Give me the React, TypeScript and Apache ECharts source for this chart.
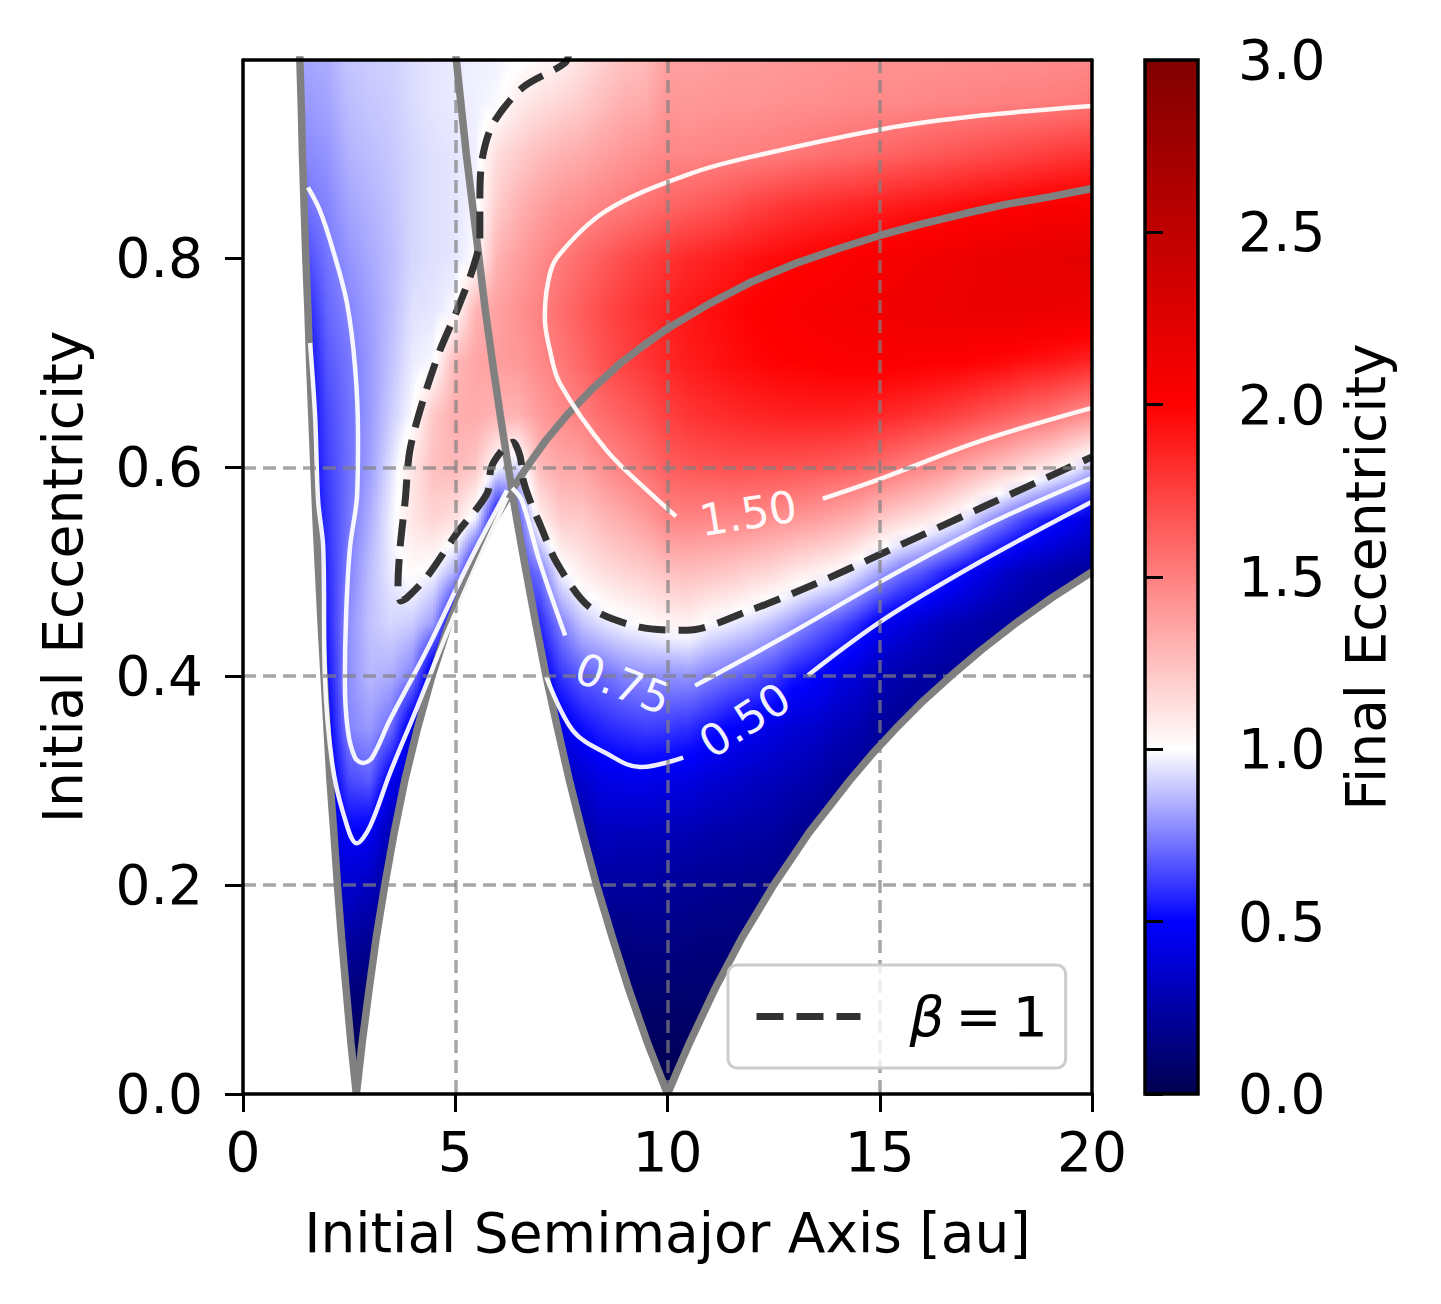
import React, { useEffect, useRef } from "react";
import * as echarts from "echarts";

const _ = null;
const FONT = "DejaVu Sans";

// grid nodes of the colour field (semimajor axis columns, eccentricity rows)
const A_NODES = [1.5, 2, 2.5, 3, 3.5, 4, 4.5, 5, 5.5, 6, 6.5, 7, 7.5, 8, 8.5, 9, 9.5, 10, 10.5, 11, 11.5, 12, 12.5, 13, 13.5, 14, 14.5, 15, 15.5, 16, 16.5, 17, 17.5, 18, 18.5, 19, 19.5, 20];
const E_NODES = [0, 0.05, 0.1, 0.15, 0.2, 0.25, 0.3, 0.35, 0.4, 0.45, 0.5, 0.55, 0.6, 0.65, 0.7, 0.75, 0.8, 0.85, 0.9, 0.95, 1.0];

// final eccentricity, one column per A_NODES entry (rows = E_NODES)
const FIELD_BY_COLUMN: (number | null)[][] = [
  [_, _, _, _, _, _, _, _, _, _, 0.45, 0.46, 0.47, 0.48, 0.5, 0.56, 0.64, 0.72, 0.77, 0.8, 0.83],
  [_, _, _, _, 0.3, 0.38, 0.43, 0.47, 0.53, 0.56, 0.58, 0.6, 0.62, 0.64, 0.67, 0.7, 0.73, 0.76, 0.79, 0.82, 0.84],
  [0, 0.06, 0.14, 0.25, 0.37, 0.49, 0.64, 0.76, 0.78, 0.78, 0.75, 0.73, 0.72, 0.72, 0.73, 0.76, 0.79, 0.82, 0.85, 0.87, 0.89],
  [0, 0.05, 0.12, 0.2, 0.32, 0.47, 0.68, 0.8, 0.86, 0.88, 0.87, 0.84, 0.81, 0.8, 0.8, 0.81, 0.83, 0.85, 0.87, 0.89, 0.9],
  [_, _, _, _, 0.2, 0.28, 0.46, 0.71, 0.84, 0.92, 0.96, 0.97, 0.94, 0.9, 0.88, 0.87, 0.87, 0.88, 0.89, 0.9, 0.91],
  [_, _, _, _, _, 0.25, 0.3, 0.42, 0.75, 0.9, 1.02, 1.1, 1.1, 0.99, 0.96, 0.94, 0.92, 0.92, 0.92, 0.93, 0.93],
  [_, _, _, _, _, _, 0.28, 0.32, 0.38, 0.8, 0.98, 1.17, 1.25, 1.22, 0.99, 0.95, 0.94, 0.94, 0.94, 0.95, 0.95],
  [_, _, _, _, _, _, _, 0.33, 0.36, 0.42, 0.85, 1.12, 1.28, 1.32, 1.28, 0.99, 0.95, 0.95, 0.95, 0.96, 0.96],
  [_, _, _, _, _, _, _, _, 0.4, 0.42, 0.45, 0.96, 1.22, 1.33, 1.35, 1.3, 1.0, 0.98, 0.97, 0.97, 0.97],
  [_, _, _, _, _, _, _, _, _, _, 0.45, 0.45, 0.98, 1.29, 1.38, 1.37, 1.3, 1.2, 1.13, 0.99, 0.97],
  [_, _, _, _, _, _, _, _, _, _, 0.62, 0.68, 0.92, 1.3, 1.4, 1.43, 1.38, 1.3, 1.2, 1.07, 0.98],
  [_, _, _, _, _, _, _, 0.4, 0.45, 0.57, 0.72, 1.05, 1.27, 1.39, 1.46, 1.49, 1.45, 1.37, 1.26, 1.12, 1.0],
  [_, _, _, _, _, _, 0.3, 0.44, 0.6, 0.75, 0.98, 1.2, 1.34, 1.45, 1.53, 1.57, 1.52, 1.42, 1.3, 1.16, 1.03],
  [_, _, _, _, 0.2, 0.24, 0.36, 0.52, 0.68, 0.88, 1.07, 1.21, 1.36, 1.5, 1.6, 1.64, 1.58, 1.45, 1.33, 1.2, 1.1],
  [_, _, _, 0.15, 0.24, 0.32, 0.43, 0.57, 0.71, 0.94, 1.13, 1.28, 1.44, 1.58, 1.68, 1.71, 1.64, 1.49, 1.37, 1.26, 1.17],
  [_, 0.05, 0.1, 0.15, 0.23, 0.31, 0.44, 0.6, 0.76, 0.98, 1.17, 1.33, 1.5, 1.63, 1.74, 1.77, 1.7, 1.52, 1.41, 1.31, 1.23],
  [0, 0.05, 0.1, 0.16, 0.23, 0.31, 0.44, 0.62, 0.78, 1.01, 1.2, 1.39, 1.56, 1.68, 1.79, 1.82, 1.75, 1.56, 1.44, 1.33, 1.26],
  [0, 0.05, 0.1, 0.16, 0.22, 0.3, 0.43, 0.61, 0.78, 1.04, 1.25, 1.47, 1.63, 1.75, 1.85, 1.87, 1.8, 1.6, 1.47, 1.41, 1.37],
  [0.02, 0.06, 0.1, 0.15, 0.21, 0.29, 0.42, 0.59, 0.79, 1.05, 1.26, 1.48, 1.66, 1.79, 1.89, 1.91, 1.84, 1.63, 1.47, 1.4, 1.36],
  [_, 0.06, 0.1, 0.14, 0.2, 0.27, 0.38, 0.54, 0.75, 0.99, 1.24, 1.47, 1.67, 1.82, 1.92, 1.94, 1.87, 1.66, 1.48, 1.41, 1.37],
  [_, _, 0.1, 0.14, 0.19, 0.26, 0.36, 0.49, 0.71, 0.96, 1.22, 1.47, 1.68, 1.84, 1.95, 1.97, 1.9, 1.69, 1.49, 1.42, 1.38],
  [_, _, _, 0.13, 0.18, 0.25, 0.33, 0.46, 0.67, 0.92, 1.18, 1.46, 1.68, 1.86, 1.97, 2.0, 1.93, 1.74, 1.5, 1.42, 1.38],
  [_, _, _, 0.13, 0.17, 0.24, 0.31, 0.42, 0.62, 0.87, 1.15, 1.43, 1.68, 1.87, 1.99, 2.02, 1.96, 1.77, 1.51, 1.43, 1.39],
  [_, _, _, _, 0.16, 0.2, 0.29, 0.38, 0.54, 0.8, 1.1, 1.41, 1.67, 1.88, 2.0, 2.04, 1.98, 1.8, 1.53, 1.44, 1.4],
  [_, _, _, _, 0.16, 0.18, 0.26, 0.36, 0.5, 0.72, 1.06, 1.38, 1.66, 1.88, 2.01, 2.06, 2.0, 1.82, 1.55, 1.44, 1.41],
  [_, _, _, _, _, 0.17, 0.22, 0.31, 0.43, 0.66, 1.02, 1.34, 1.64, 1.88, 2.02, 2.08, 2.02, 1.84, 1.57, 1.45, 1.42],
  [_, _, _, _, _, 0.17, 0.2, 0.28, 0.38, 0.58, 0.93, 1.3, 1.62, 1.87, 2.03, 2.1, 2.04, 1.86, 1.58, 1.46, 1.42],
  [_, _, _, _, _, _, 0.19, 0.22, 0.3, 0.47, 0.83, 1.22, 1.57, 1.85, 2.03, 2.11, 2.06, 1.88, 1.6, 1.46, 1.42],
  [_, _, _, _, _, _, 0.19, 0.2, 0.26, 0.42, 0.73, 1.16, 1.52, 1.83, 2.03, 2.12, 2.08, 1.9, 1.62, 1.46, 1.42],
  [_, _, _, _, _, _, _, 0.2, 0.24, 0.36, 0.67, 1.11, 1.47, 1.8, 2.02, 2.13, 2.1, 1.92, 1.64, 1.47, 1.42],
  [_, _, _, _, _, _, _, 0.2, 0.22, 0.31, 0.58, 1.04, 1.42, 1.77, 2.01, 2.14, 2.12, 1.94, 1.66, 1.48, 1.42],
  [_, _, _, _, _, _, _, _, 0.2, 0.28, 0.5, 0.95, 1.35, 1.73, 2.0, 2.15, 2.14, 1.96, 1.68, 1.48, 1.43],
  [_, _, _, _, _, _, _, _, 0.2, 0.25, 0.42, 0.82, 1.29, 1.68, 1.98, 2.16, 2.16, 1.98, 1.7, 1.49, 1.43],
  [_, _, _, _, _, _, _, _, 0.2, 0.23, 0.35, 0.72, 1.22, 1.64, 1.96, 2.16, 2.17, 2.0, 1.72, 1.5, 1.43],
  [_, _, _, _, _, _, _, _, _, 0.2, 0.3, 0.62, 1.15, 1.58, 1.93, 2.15, 2.18, 2.02, 1.74, 1.5, 1.43],
  [_, _, _, _, _, _, _, _, _, 0.2, 0.27, 0.54, 1.08, 1.55, 1.91, 2.15, 2.19, 2.04, 1.76, 1.51, 1.44],
  [_, _, _, _, _, _, _, _, _, 0.2, 0.24, 0.47, 1.0, 1.48, 1.88, 2.14, 2.2, 2.05, 1.78, 1.52, 1.44],
  [_, _, _, _, _, _, _, _, _, 0.2, 0.22, 0.4, 0.89, 1.43, 1.85, 2.13, 2.21, 2.06, 1.8, 1.53, 1.45],
];

// grey boundary curves (semimajor axis, eccentricity)
const BOUNDARY_L1 = [[2.67, 0], [2.54, 0.05], [2.43, 0.1], [2.32, 0.15], [2.225, 0.2], [2.14, 0.25], [2.05, 0.3], [1.98, 0.35], [1.91, 0.4], [1.84, 0.45], [1.78, 0.5], [1.72, 0.55], [1.67, 0.6], [1.62, 0.65], [1.57, 0.7], [1.53, 0.75], [1.48, 0.8], [1.44, 0.85], [1.4, 0.9], [1.37, 0.95], [1.34, 0.99], [1.32, 1.02]];
const BOUNDARY_L2U = [[2.67, 0], [2.81, 0.05], [2.97, 0.1], [3.14, 0.15], [3.34, 0.2], [3.56, 0.25], [3.81, 0.3], [4.11, 0.35], [4.45, 0.4], [4.85, 0.45], [5.34, 0.5], [5.93, 0.55], [6.335, 0.578], [6.68, 0.6], [7.12, 0.625], [7.63, 0.65], [8.2, 0.674], [8.9, 0.7], [9.45, 0.717], [10, 0.733], [11, 0.757], [12, 0.778], [13, 0.795], [14, 0.809], [15, 0.822], [16, 0.833], [17, 0.843], [18, 0.852], [19, 0.859], [20, 0.867]];
const CUSP_INDEX_L2U = 12;
const BOUNDARY_R1 = [[4.9, 1.04], [5.0, 1.0], [5.13, 0.95], [5.26, 0.9], [5.41, 0.85], [5.56, 0.8], [5.71, 0.75], [5.88, 0.7], [6.06, 0.65], [6.25, 0.6], [6.335, 0.578], [6.45, 0.55], [6.67, 0.5], [6.9, 0.45], [7.14, 0.4], [7.41, 0.35], [7.69, 0.3], [8.0, 0.25], [8.33, 0.2], [8.7, 0.15], [9.09, 0.1], [9.52, 0.05], [10, 0]];
const CUSP_INDEX_R1 = 10;
const BOUNDARY_R2 = [[10, 0], [10.25, 0.024], [10.53, 0.05], [11.11, 0.1], [11.76, 0.15], [12.5, 0.2], [13.33, 0.25], [14.29, 0.3], [14.81, 0.325], [15.38, 0.35], [15.99, 0.375], [16.67, 0.4], [17.39, 0.425], [18.18, 0.45], [19.05, 0.475], [20, 0.5]];

// white contour lines
const C050_LEFT = [[1.58, 0.719], [1.7, 0.648], [1.77, 0.568], [1.89, 0.523], [1.93, 0.399], [2.1, 0.317], [2.36, 0.269], [2.68, 0.24], [2.99, 0.256], [3.46, 0.307], [4.1, 0.37], [4.8, 0.441], [5.58, 0.514], [6.22, 0.571]];
const C075_LEFT = [[1.53, 0.868], [1.81, 0.846], [2.12, 0.808], [2.45, 0.757], [2.64, 0.696], [2.71, 0.63], [2.69, 0.575], [2.52, 0.523], [2.43, 0.46], [2.4, 0.396], [2.47, 0.348], [2.64, 0.322], [2.83, 0.317], [3.04, 0.322], [3.46, 0.358], [4.33, 0.425], [5.35, 0.511], [6.22, 0.578]];
const C075_RIGHT_A = [[6.34, 0.58], [6.57, 0.568], [7.0, 0.508], [7.59, 0.439]];
const C075_RIGHT_B = [[10.65, 0.391], [12.72, 0.437], [15.08, 0.492], [17.43, 0.543], [20, 0.59]];
const C050_RIGHT_A = [[7.14, 0.4], [7.77, 0.348], [8.57, 0.326], [9.35, 0.313], [10.37, 0.322]];
const C050_RIGHT_B = [[13.31, 0.401], [15.08, 0.454], [17.43, 0.511], [20, 0.567]];
const C150_A = [[20, 0.946], [17.43, 0.937], [15.08, 0.924], [11.94, 0.897], [10.53, 0.881], [8.57, 0.846], [7.4, 0.801], [7.18, 0.776], [7.11, 0.743], [7.23, 0.712], [7.47, 0.68], [8.57, 0.616], [9.6, 0.575], [10.2, 0.553]];
const C150_B = [[13.66, 0.57], [15.08, 0.59], [17.43, 0.626], [20, 0.657]];
// beta = 1 contour (dashed)
const BETA1 = [[7.7, 1.0], [7.58, 0.987], [6.6, 0.964], [5.89, 0.929], [5.63, 0.894], [5.58, 0.855], [5.58, 0.82], [5.42, 0.791], [5.04, 0.75], [4.64, 0.712], [4.24, 0.664], [3.93, 0.616], [3.82, 0.568], [3.7, 0.523], [3.65, 0.485], [3.72, 0.472], [3.86, 0.475], [4.33, 0.495], [5.04, 0.537], [5.75, 0.575], [5.85, 0.6], [6.12, 0.617], [6.36, 0.624], [6.53, 0.61], [6.6, 0.588], [6.76, 0.568], [7.0, 0.545], [7.4, 0.508], [8.17, 0.466], [9.35, 0.447], [10.46, 0.444], [11.94, 0.463], [13.52, 0.489], [15.08, 0.518], [17.43, 0.562], [20, 0.61]];
const BETA1_NAME = "β = 1";

const LABEL_TEXT = ["1.50", "0.75", "0.50"];
const LABEL_POS = [[11.9, 0.556], [8.95, 0.393], [11.82, 0.358]];
const LABEL_ROT = [9, -21, 33];

const X_TICKS = [0, 5, 10, 15, 20];
const Y_TICKS = [0, 0.2, 0.4, 0.6, 0.8];
const CBAR_TICKS = [0, 0.5, 1, 1.5, 2, 2.5, 3];

function cmap(v: number): string {
  const t = v <= 1 ? Math.max(0, v) / 2 : Math.min(1, 0.5 + (v - 1) / 4);
  let r: number, g: number, b: number;
  if (t < 0.25) { const s = t / 0.25; r = 0; g = 0; b = 0.3 + 0.7 * s; }
  else if (t < 0.5) { const s = (t - 0.25) / 0.25; r = s; g = s; b = 1; }
  else if (t < 0.75) { const s = (t - 0.5) / 0.25; r = 1; g = 1 - s; b = 1 - s; }
  else { const s = (t - 0.75) / 0.25; r = 1 - 0.5 * s; g = 0; b = 0; }
  return `rgb(${Math.round(r * 255)},${Math.round(g * 255)},${Math.round(b * 255)})`;
}

function buildOption() {
  // nodes outside the coloured domain take the nearest value of their column (they are hidden by the masks)
  const filled = FIELD_BY_COLUMN.map((col) =>
    col.map((v, j) => {
      if (v != null) return v;
      for (let d = 1; d < col.length; d++) {
        const up = col[j + d];
        const dn = col[j - d];
        if (up != null) return up;
        if (dn != null) return dn;
      }
      return 0;
    })
  );
  const SUB = 8;
  const strips: number[][] = [];
  const step = A_NODES[1] - A_NODES[0];
  strips.push([A_NODES[0] - step / 2, A_NODES[0], 0, 0]);
  for (let i = 0; i < A_NODES.length - 1; i++) {
    const w = (A_NODES[i + 1] - A_NODES[i]) / SUB;
    for (let s = 0; s < SUB; s++) {
      strips.push([A_NODES[i] + s * w, A_NODES[i] + (s + 1) * w, i, (s + 0.5) / SUB]);
    }
  }
  const eTop = E_NODES[E_NODES.length - 1];
  const eBot = E_NODES[0];

  const masks = [
    [[-1, -0.1], [2.67, -0.1], ...BOUNDARY_L1, [1.28, 1.1], [-1, 1.1]],
    [...BOUNDARY_L2U.slice(0, CUSP_INDEX_L2U + 1), ...BOUNDARY_R1.slice(CUSP_INDEX_R1 + 1), [10, -0.1], [2.67, -0.1]],
    [...BOUNDARY_R2, [21, 0.5], [21, -0.1], [10, -0.1]],
  ];

  const lineSeries = (data: number[][], color: string, width: number, z: number, smooth: number | boolean, dash?: number[], name?: string) => ({
    type: "line",
    name,
    data,
    xAxisIndex: 0,
    yAxisIndex: 0,
    symbol: "none",
    showSymbol: false,
    smooth,
    silent: true,
    z,
    color,
    itemStyle: { color },
    lineStyle: { color, width, type: dash ? dash : "solid", cap: "butt" },
  });

  const axisFont = { fontFamily: FONT, fontSize: 55, color: "#000" };
  const gridLine = { show: true, showMinLine: false, showMaxLine: false, lineStyle: { color: "rgba(128,128,128,0.7)", width: 3.5, type: [13, 7] } };
  const white = "rgba(255,255,255,0.93)";

  const series: any[] = [
    {
      type: "custom",
      xAxisIndex: 0,
      yAxisIndex: 0,
      clip: true,
      silent: true,
      z: 1,
      data: strips,
      renderItem: (params: any, api: any) => {
        const x0 = api.value(0), x1 = api.value(1), i = api.value(2), t = api.value(3);
        const colA = filled[i];
        const colB = filled[Math.min(i + 1, filled.length - 1)];
        const val = (j: number) => (1 - t) * colA[j] + t * colB[j];
        const stops: any[] = [];
        for (let j = E_NODES.length - 1; j >= 0; j--) {
          const vj = val(j);
          stops.push({ offset: (eTop - E_NODES[j]) / (eTop - eBot), color: cmap(vj) });
          if (j > 0) {
            for (const f of [0.25, 0.5, 0.75]) {
              const e = E_NODES[j] - f * (E_NODES[j] - E_NODES[j - 1]);
              const v = (1 - f) * vj + f * val(j - 1);
              stops.push({ offset: (eTop - e) / (eTop - eBot), color: cmap(v) });
            }
          }
        }
        const p0 = api.coord([x0, eTop]);
        const p1 = api.coord([x1, eBot]);
        return {
          type: "rect",
          shape: { x: p0[0] - 0.5, y: p0[1], width: p1[0] - p0[0] + 1, height: p1[1] - p0[1] },
          style: { fill: { type: "linear", x: 0, y: 0, x2: 0, y2: 1, colorStops: stops } },
        };
      },
    },
    {
      type: "custom",
      xAxisIndex: 0,
      yAxisIndex: 0,
      clip: true,
      silent: true,
      z: 2,
      data: masks.map((_m, i) => [i]),
      renderItem: (params: any, api: any) => {
        const pts = masks[params.dataIndex].map((p) => api.coord(p));
        return { type: "polygon", shape: { points: pts }, style: { fill: "#ffffff" } };
      },
    },
    lineSeries(BOUNDARY_L1, "#808080", 7.5, 3, false),
    lineSeries(BOUNDARY_L2U, "#808080", 7.5, 3, false),
    lineSeries(BOUNDARY_R1, "#808080", 7.5, 3, false),
    lineSeries(BOUNDARY_R2, "#808080", 7.5, 3, false),
    lineSeries(C050_LEFT, white, 4.5, 4, 0.35),
    lineSeries(C075_LEFT, white, 4.5, 4, 0.35),
    lineSeries(C075_RIGHT_A, white, 4.5, 4, 0.35),
    lineSeries(C075_RIGHT_B, white, 4.5, 4, 0.35),
    lineSeries(C050_RIGHT_A, white, 4.5, 4, 0.35),
    lineSeries(C050_RIGHT_B, white, 4.5, 4, 0.35),
    lineSeries(C150_A, white, 4.5, 4, 0.35),
    lineSeries(C150_B, white, 4.5, 4, 0.35),
    lineSeries(BETA1, "#333333", 7, 5, 0.3, [27, 13], BETA1_NAME),
    {
      type: "custom",
      xAxisIndex: 0,
      yAxisIndex: 0,
      silent: true,
      z: 6,
      data: LABEL_POS.map((p, i) => [p[0], p[1], i]),
      renderItem: (params: any, api: any) => {
        const i = params.dataIndex;
        const p = api.coord([api.value(0), api.value(1)]);
        return {
          type: "text",
          x: p[0],
          y: p[1],
          rotation: (LABEL_ROT[i] * Math.PI) / 180,
          style: { text: LABEL_TEXT[i], fill: "rgba(255,255,255,0.95)", fontSize: 44, fontFamily: FONT, align: "center", verticalAlign: "middle" },
        };
      },
    },
    {
      type: "custom",
      xAxisIndex: 2,
      yAxisIndex: 2,
      silent: true,
      z: 3,
      data: [[0, 0]],
      renderItem: (params: any, api: any) => {
        const lo = CBAR_TICKS[0];
        const hi = CBAR_TICKS[CBAR_TICKS.length - 1];
        const p0 = api.coord([0, hi]);
        const p1 = api.coord([1, lo]);
        const stops = CBAR_TICKS.slice().reverse().map((v) => ({ offset: (hi - v) / (hi - lo), color: cmap(v) }));
        return {
          type: "rect",
          shape: { x: p0[0], y: p0[1], width: p1[0] - p0[0], height: p1[1] - p0[1] },
          style: {
            fill: { type: "linear", x: 0, y: 0, x2: 0, y2: 1, colorStops: stops },
            stroke: "#000",
            lineWidth: 3.5,
          },
        };
      },
    },
  ];

  return {
    animation: false,
    backgroundColor: "#ffffff",
    textStyle: { fontFamily: FONT },
    grid: [
      { left: 243, top: 60, width: 849, height: 1034 },
      { left: 1145, top: 60, width: 53, height: 1034 },
    ],
    legend: {
      show: true,
      data: [BETA1_NAME],
      left: 728,
      top: 965,
      orient: "horizontal",
      itemWidth: 104,
      itemHeight: 14,
      padding: [24, 18, 24, 25],
      backgroundColor: "rgba(255,255,255,0.8)",
      borderColor: "#cccccc",
      borderWidth: 3,
      borderRadius: 9,
      selectedMode: false,
      z: 20,
      itemStyle: { opacity: 0, borderWidth: 0 },
      lineStyle: { color: "#333333", width: 7, type: [27, 13], opacity: 1, cap: "butt" },
      formatter: () => "{b|β}\u2009=\u20091",
      textStyle: {
        fontSize: 55, fontFamily: FONT, color: "#000", padding: [0, 0, 0, 44],
        rich: { b: { fontStyle: "italic", fontSize: 55, fontFamily: FONT, color: "#000" } },
      },
    },
    xAxis: [
      {
        gridIndex: 0, type: "value", min: X_TICKS[0], max: X_TICKS[X_TICKS.length - 1], interval: 5, position: "bottom", z: 10,
        axisLine: { show: true, onZero: false, lineStyle: { color: "#000", width: 3.5 } },
        axisTick: { show: true, length: 18, lineStyle: { color: "#000", width: 3 } },
        axisLabel: { ...axisFont, margin: 30, formatter: (v: number) => String(v) },
        splitLine: gridLine,
        name: "Initial Semimajor Axis [au]", nameLocation: "middle", nameGap: 111, nameTextStyle: axisFont,
      },
      {
        gridIndex: 0, type: "value", min: 0, max: 20, position: "top", z: 10,
        axisLine: { show: true, onZero: false, lineStyle: { color: "#000", width: 3.5 } },
        axisTick: { show: false }, axisLabel: { show: false }, splitLine: { show: false },
      },
      { gridIndex: 1, type: "value", min: 0, max: 1, show: false },
    ],
    yAxis: [
      {
        gridIndex: 0, type: "value", min: 0, max: 0.99, interval: 0.2, position: "left", z: 10,
        axisLine: { show: true, onZero: false, lineStyle: { color: "#000", width: 3.5 } },
        axisTick: { show: true, length: 18, lineStyle: { color: "#000", width: 3 }, customValues: Y_TICKS },
        axisLabel: { ...axisFont, margin: 40, customValues: Y_TICKS, formatter: (v: number) => v.toFixed(1) },
        splitLine: gridLine,
        name: "Initial Eccentricity", nameLocation: "middle", nameGap: 153, nameRotate: 90, nameTextStyle: axisFont,
      },
      {
        gridIndex: 0, type: "value", min: 0, max: 0.99, position: "right", z: 10,
        axisLine: { show: true, onZero: false, lineStyle: { color: "#000", width: 3.5 } },
        axisTick: { show: false }, axisLabel: { show: false }, splitLine: { show: false },
      },
      {
        gridIndex: 1, type: "value", min: CBAR_TICKS[0], max: CBAR_TICKS[CBAR_TICKS.length - 1], interval: 0.5, position: "right", z: 10,
        axisLine: { show: false },
        axisTick: { show: true, length: 18, lineStyle: { color: "#000", width: 3 } },
        axisLabel: { ...axisFont, margin: 40, formatter: (v: number) => v.toFixed(1) },
        splitLine: { show: false },
        name: "Final Eccentricity", nameLocation: "middle", nameGap: 140, nameRotate: 90, nameTextStyle: axisFont,
      },
    ],
    series,
  };
}

export default function App() {
  const ref = useRef<HTMLDivElement>(null);
  useEffect(() => {
    document.body.style.margin = "0";
    const chart = echarts.init(ref.current as HTMLDivElement, null, { renderer: "svg" });
    chart.setOption(buildOption() as any);
    return () => chart.dispose();
  }, []);
  return <div ref={ref} style={{ width: 1441, height: 1304 }} />;
}
